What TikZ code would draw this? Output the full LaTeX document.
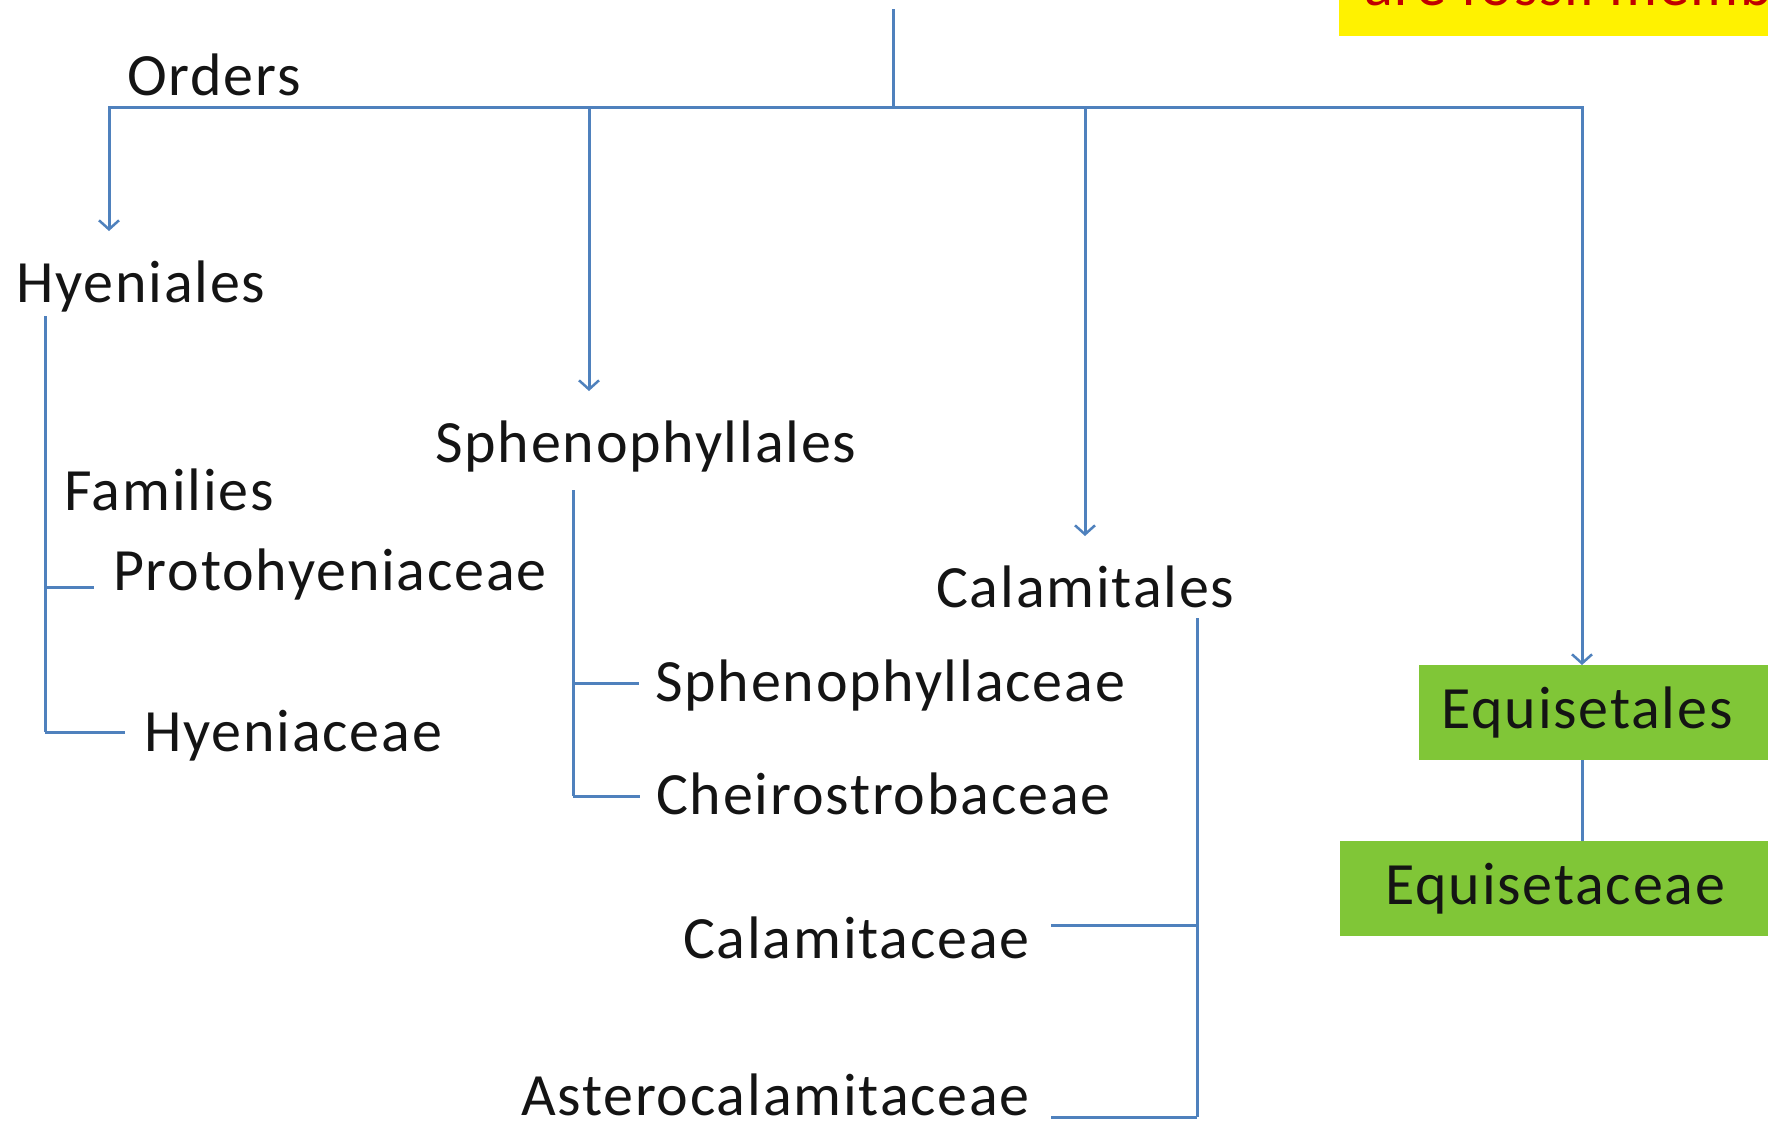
\documentclass[tikz,border=0pt]{standalone}
\usepackage{fontspec}
\setmainfont{Carlito}[LetterSpace=3]
\usetikzlibrary{arrows.meta}
\definecolor{lnc}{RGB}{79,129,189}
\definecolor{txc}{RGB}{20,20,20}
\definecolor{grc}{RGB}{128,198,55}
\definecolor{rdc}{RGB}{192,0,0}
\begin{document}
\begin{tikzpicture}[x=1pt,y=-1pt,
  lbl/.style={anchor=base west,inner sep=0pt,text=txc,font=\fontsize{60}{72}\selectfont},
  conn/.style={draw=lnc,line width=3pt},
  arr/.style={conn,-{Straight Barb[length=9pt,width=20pt,line width=2.5pt]}},
  gbox/.style={fill=grc,anchor=north west,inner ysep=0pt,minimum height=95pt,align=left,text=txc,font=\fontsize{60}{72}\selectfont}]
\useasboundingbox (0,0) rectangle (1768,1125);
\clip (0,0) rectangle (1768,1125);
% yellow note (cut off)
\node (note) [fill=yellow,anchor=north west,inner sep=0pt,minimum width=440pt,minimum height=37pt] at (1339,-1) {};
\node (notetxt) [anchor=base west,inner sep=0pt,text=rdc,font=\fontsize{60}{72}\selectfont] at (1364,5) {are fossil members};
% labels
\node (orders) [lbl] at (127,95) {Orders};
\node (hyen) [lbl] at (16,302) {Hyeniales};
\node (fam) [lbl] at (64,510) {Families};
\node (proto) [lbl] at (113,590) {Protohyeniaceae};
\node (hyac) [lbl] at (144,751) {Hyeniaceae};
\node (sphen) [lbl] at (435,462) {Sphenophyllales};
\node (sphac) [lbl] at (655,701) {Sphenophyllaceae};
\node (cheir) [lbl] at (656,814) {Cheirostrobaceae};
\node (calam) [lbl] at (936,607) {Calamitales};
\node (calac) [lbl,anchor=base east] at (1030,958) {Calamitaceae};
\node (aster) [lbl,anchor=base east] at (1030,1115) {Asterocalamitaceae};
\node (eqs) [gbox,inner xsep=22pt,text width=380pt] at (1419,665) {Equisetales};
\node (eqc) [gbox,inner xsep=45pt,text width=400pt] at (1340,841) {Equisetaceae};
% tree top
\coordinate (top) at (893,9);
\coordinate (hub) at (893,107);
\coordinate (j1) at (109,107);
\coordinate (j2) at (589,107);
\coordinate (j3) at (1085,107);
\coordinate (j4) at (1582,107);
\coordinate (t1) at (109,231);
\coordinate (t2) at (589,391);
\coordinate (t3) at (1085,536);
\draw[conn] (top) -- (hub);
\draw[conn,line cap=rect] (j1) -- (j4);
\draw[arr] (j1) -- (t1);
\draw[arr] (j2) -- (t2);
\draw[arr] (j3) -- (t3);
\draw[arr] (j4) -- (eqs.north -| j4);
\draw[conn] (eqs.south -| j4) -- (eqc.north -| j4);
% Hyeniales bracket
\coordinate (h0) at (45,316);
\coordinate (h1) at (45,587);
\coordinate (h2) at (45,732);
\draw[conn] (h0) -- (h2);
\draw[conn,shorten >=19pt] (h1) -- (h1 -| proto.west);
\draw[conn,shorten >=19pt] (h2) -- (h2 -| hyac.west);
% Sphenophyllales bracket
\coordinate (s0) at (573,490);
\coordinate (s1) at (573,683);
\coordinate (s2) at (573,796);
\draw[conn] (s0) -- (s2);
\draw[conn,shorten >=16pt] (s1) -- (s1 -| sphac.west);
\draw[conn,shorten >=16pt] (s2) -- (s2 -| cheir.west);
% Calamitales bracket
\coordinate (c0) at (1197,618);
\coordinate (c1) at (1197,925);
\coordinate (c2) at (1197,1117);
\draw[conn] (c0) -- (c2);
\draw[conn,shorten >=21pt] (c1) -- (c1 -| calac.east);
\draw[conn,shorten >=21pt] (c2) -- (c2 -| aster.east);
\end{tikzpicture}
\end{document}
